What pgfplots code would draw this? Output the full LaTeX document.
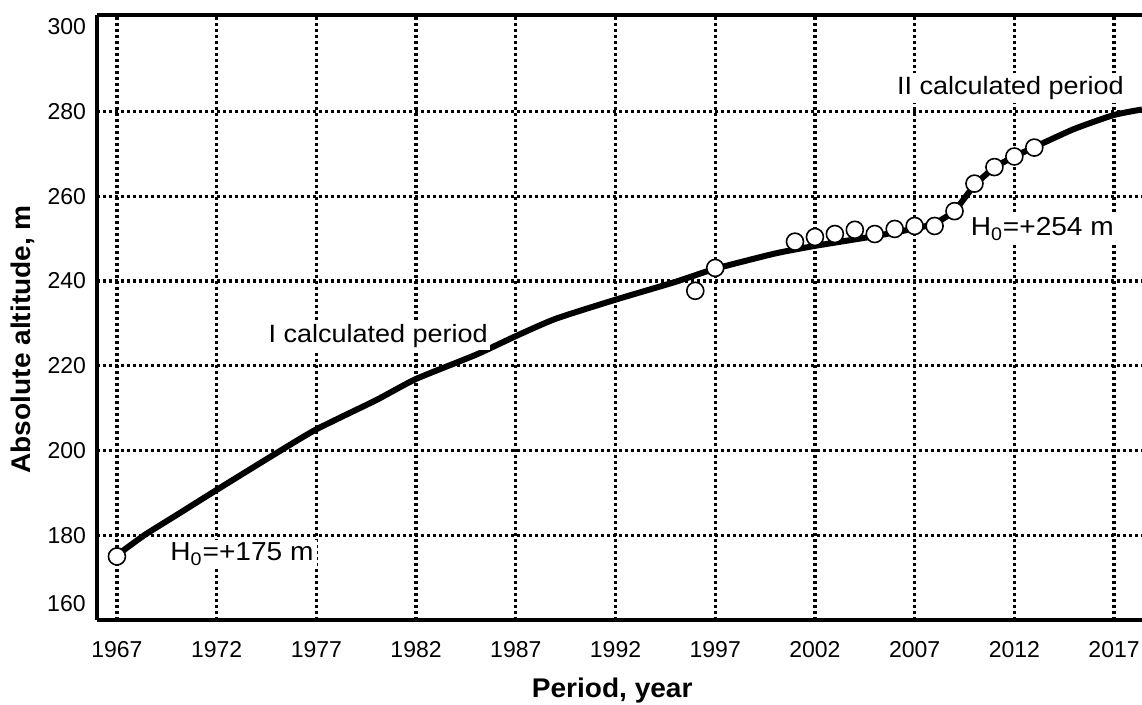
\documentclass[border=0pt]{standalone}
\usepackage{fontspec}
\setmainfont{Liberation Sans}
\newfontfamily\annfont[FakeStretch=1.08]{Liberation Sans}
\newfontfamily\labfont[FakeStretch=1.04]{Liberation Sans}
\usepackage{pgfplots}
\pgfplotsset{compat=1.18}

\begin{document}
\begin{tikzpicture}
\begin{axis}[
  scale only axis, width=522.5pt, height=302.5pt,
  xmin=1966, xmax=2018.4, ymin=160, ymax=302.8,
  clip mode=individual,
  axis x line*=bottom, axis y line*=left,
  axis line style={line width=2pt, black},
  xtick={1967,1972,...,2017}, ytick={160,180,...,300},
  yticklabels={{},180,200,220,240,260,280,300},
  major tick length=0pt,
  /pgf/number format/assume math mode=true,
  /pgf/number format/1000 sep={},
  x tick label style={font=\fontsize{11.5}{13}\selectfont, yshift=-7pt},
  y tick label style={font=\fontsize{11.5}{13}\selectfont, xshift=-2pt},
  xmajorgrids,
  extra y ticks={180,200,...,280}, extra y tick labels={},
  extra y tick style={grid=major},
  grid style={line width=1.7pt, dash pattern=on 1.6pt off 1.4pt, black},
  xlabel={\labfont\bfseries Period, year},
  ylabel={\labfont\bfseries Absolute altitude, m},
  xlabel style={at={(axis description cs:0.493,-0.116)}, anchor=center, font=\fontsize{13.5}{15}\selectfont},
  ylabel style={at={(axis description cs:-0.0708,0.464)}, anchor=center, font=\fontsize{13.5}{15}\selectfont},
]
\addplot[black, line width=3pt, line join=round, no marks, smooth, tension=0.35] table {
1967 175.3
1968.4 180.1
1970 184.8
1972 190.7
1975 199.4
1977 205
1980 211.9
1982 216.9
1985 222.6
1987 227
1989 231.1
1992 235.6
1995 239.8
1997 242.9
2000 246.5
2002 248.3
2005 250.6
2007 252.4
2008 253.6
2009 256.6
2010 262.6
2011 266.8
2012 269.4
2013 271.6
2015 275.9
2017 279.2
2018.4 280.5
};
\addplot[only marks, mark=*, mark size=4.25pt, mark options={fill=white, draw=black, line width=0.8pt}] table {
1967 175
1996 237.7
1997 243.1
2001 249.3
2002 250.4
2003 251.1
2004 252.1
2005 251.1
2006 252.3
2007 253
2008 253
2009 256.5
2010 263
2011 266.9
2012 269.4
2013 271.5
};
\draw[line width=2pt] (rel axis cs:0,1) -- (rel axis cs:1,1);
\node[anchor=east, inner sep=0pt, font=\fontsize{11.5}{13}\selectfont] at (rel axis cs:0,0) [xshift=-5.5pt, yshift=8pt] {160};
\node[fill=white, inner sep=1.5pt, font=\annfont\fontsize{13}{14}\selectfont] at (axis cs:1973.27,175.5) {H\textsubscript{0}=+175 m};
\node[fill=white, inner sep=1pt, font=\annfont\fontsize{12.5}{14}\selectfont] at (axis cs:1980.1,227.0) {I calculated period};
\node[fill=white, inner sep=1.5pt, font=\annfont\fontsize{13}{14}\selectfont] at (axis cs:2013.4,252.3) {H\textsubscript{0}=+254 m};
\node[fill=white, inner sep=1.5pt, font=\annfont\fontsize{12.5}{14}\selectfont] at (axis cs:2011.8,285.6) {II calculated period};
\end{axis}
\pgfresetboundingbox
\path (-48.5pt,-42.5pt) rectangle (522.5pt,310pt);
\end{tikzpicture}
\end{document}
